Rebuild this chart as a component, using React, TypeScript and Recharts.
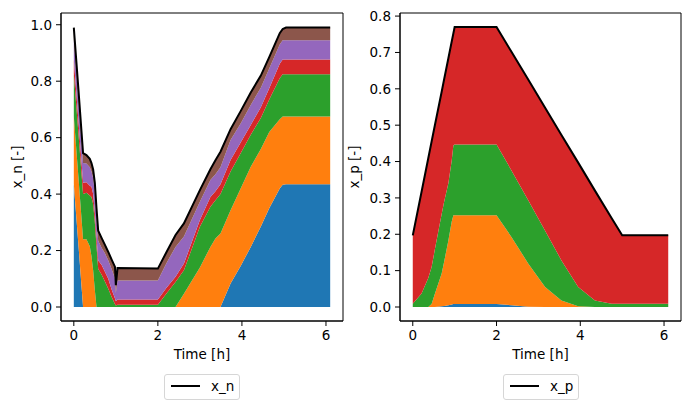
import React from 'react'
import { ComposedChart, Area, Line, XAxis, YAxis, ReferenceArea } from 'recharts'

// tab10 colours used by matplotlib's stackplot
const COLORS = {
  blue: '#1f77b4',
  orange: '#ff7f0e',
  green: '#2ca02c',
  red: '#d62728',
  purple: '#9467bd',
  brown: '#8c564b',
}

const FONT = '"DejaVu Sans", "Liberation Sans", sans-serif'
const FONT_SIZE = 13.5
const X_DOMAIN: [number, number] = [-0.305, 6.405]

// ---------------------------------------------------------------------------
// negative electrode: x_n split into six stacked parts
// ---------------------------------------------------------------------------
const timeN = [
  0, 0.11, 0.22, 0.3, 0.38, 0.42, 0.46, 0.5, 0.54, 0.58, 0.66, 0.74, 0.82, 0.9, 0.98, 1.0, 1.04,
  2.0, 2.2, 2.42, 2.62, 3.0, 3.25, 3.37, 3.49, 3.73, 3.97, 4.21, 4.45, 4.65, 4.9, 4.97, 5.05, 6.1,
]
const nBlue = [
  0.435, 0.22, 0, 0, 0, 0, 0, 0, 0, 0, 0, 0, 0, 0, 0, 0, 0,
  0, 0, 0, 0, 0, 0, 0, 0, 0.083, 0.145, 0.213, 0.285, 0.35, 0.42, 0.433, 0.435, 0.435,
]
const nOrange = [
  0.24, 0.24, 0.24, 0.24, 0.215, 0.18, 0.13, 0.06, 0, 0, 0, 0, 0, 0, 0, 0, 0,
  0, 0, 0, 0.047, 0.14, 0.213, 0.243, 0.26, 0.26, 0.275, 0.284, 0.275, 0.27, 0.245, 0.242, 0.24, 0.24,
]
const nGreen = [
  0.15, 0.155, 0.16, 0.165, 0.18, 0.21, 0.235, 0.24, 0.215, 0.135, 0.115, 0.09, 0.065, 0.035, 0.01, 0.005, 0.008,
  0.008, 0.047, 0.089, 0.083, 0.144, 0.142, 0.135, 0.14, 0.137, 0.125, 0.113, 0.11, 0.115, 0.145, 0.15, 0.15, 0.15,
]
const nRed = [
  0.052, 0.045, 0.04, 0.037, 0.035, 0.036, 0.035, 0.035, 0.035, 0.03, 0.035, 0.035, 0.035, 0.027, 0.02, 0.015, 0.019,
  0.019, 0.02, 0.018, 0.024, 0.024, 0.035, 0.032, 0.035, 0.041, 0.038, 0.035, 0.038, 0.04, 0.052, 0.052, 0.052, 0.052,
]
const nPurple = [
  0.068, 0.067, 0.07, 0.066, 0.065, 0.054, 0.057, 0.07, 0.06, 0.07, 0.06, 0.065, 0.065, 0.073, 0.07, 0.03, 0.067,
  0.067, 0.087, 0.106, 0.096, 0.065, 0.06, 0.06, 0.06, 0.071, 0.067, 0.071, 0.069, 0.07, 0.068, 0.068, 0.068, 0.068,
]
const nBrown = [
  0.045, 0.043, 0.035, 0.03, 0.03, 0.03, 0.03, 0.035, 0.04, 0.035, 0.035, 0.03, 0.03, 0.033, 0.042, 0.027, 0.044,
  0.042, 0.039, 0.042, 0.046, 0.041, 0.038, 0.05, 0.055, 0.038, 0.044, 0.044, 0.043, 0.04, 0.04, 0.04, 0.045, 0.045,
]
const xN = [
  0.99, 0.77, 0.545, 0.538, 0.525, 0.51, 0.487, 0.44, 0.35, 0.27, 0.245, 0.22, 0.195, 0.168, 0.142, 0.077, 0.138,
  0.136, 0.193, 0.255, 0.296, 0.414, 0.488, 0.52, 0.55, 0.63, 0.694, 0.76, 0.82, 0.885, 0.97, 0.985, 0.99, 0.99,
]

// ---------------------------------------------------------------------------
// positive electrode: x_p split into four stacked parts
// ---------------------------------------------------------------------------
const timeP = [
  0, 0.21, 0.37, 0.45, 0.53, 0.69, 0.75, 0.85, 0.93, 0.97, 1.0, 2.0,
  2.36, 2.76, 3.16, 3.55, 3.95, 4.35, 4.75, 5.0, 6.1,
]
const pBlue = [
  0, 0, 0, 0, 0, 0.002, 0.003, 0.005, 0.007, 0.008, 0.008, 0.008,
  0.005, 0.001, 0, 0, 0, 0, 0, 0, 0,
]
const pOrange = [
  0, 0, 0, 0.008, 0.037, 0.09, 0.122, 0.178, 0.228, 0.244, 0.244, 0.244,
  0.187, 0.118, 0.055, 0.018, 0.002, 0, 0, 0, 0,
]
const pGreen = [
  0.009, 0.037, 0.08, 0.102, 0.123, 0.164, 0.165, 0.157, 0.168, 0.193, 0.195, 0.195,
  0.183, 0.174, 0.155, 0.11, 0.053, 0.018, 0.009, 0.009, 0.009,
]
const pRed = [
  0.188, 0.28, 0.329, 0.345, 0.341, 0.336, 0.337, 0.344, 0.327, 0.308, 0.323, 0.323,
  0.326, 0.332, 0.338, 0.345, 0.342, 0.302, 0.235, 0.188, 0.188,
]
const xP = [
  0.197, 0.317, 0.409, 0.455, 0.501, 0.592, 0.627, 0.684, 0.73, 0.753, 0.77, 0.77,
  0.701, 0.625, 0.548, 0.473, 0.397, 0.32, 0.244, 0.197, 0.197,
]

const xTicks = [0, 2, 4, 6]
const yTicksN = [0, 0.2, 0.4, 0.6, 0.8, 1.0]
const yTicksP = [0, 0.1, 0.2, 0.3, 0.4, 0.5, 0.6, 0.7, 0.8]

const dataN = timeN.map((t, i) => ({
  t,
  blue: nBlue[i],
  orange: nOrange[i],
  green: nGreen[i],
  red: nRed[i],
  purple: nPurple[i],
  brown: nBrown[i],
  xn: xN[i],
}))

const dataP = timeP.map((t, i) => ({
  t,
  blue: pBlue[i],
  orange: pOrange[i],
  green: pGreen[i],
  red: pRed[i],
  xp: xP[i],
}))

const tickStyle = { fill: '#000', fontSize: FONT_SIZE, fontFamily: FONT }
const axisLine = { stroke: '#000', strokeWidth: 1 }

function LegendBox({ left, label }: { left: number; label: string }) {
  return (
    <div
      style={{
        position: 'absolute',
        left,
        top: 374,
        width: 76,
        height: 26,
        boxSizing: 'border-box',
        border: '1px solid #d6d6d6',
        borderRadius: 3,
        background: '#fff',
        fontFamily: FONT,
        fontSize: FONT_SIZE,
      }}
    >
      <div style={{ position: 'absolute', left: 6, top: 10, width: 29, height: 2, background: '#000' }} />
      <div style={{ position: 'absolute', left: 46, top: 2, lineHeight: '18px', color: '#000' }}>{label}</div>
    </div>
  )
}

interface PanelProps {
  data: Array<Record<string, number>>
  keys: string[]
  lineKey: string
  yDomain: [number, number]
  yTicks: number[]
  yLabel: string
  yAxisWidth: number
  yLabelOffset: number
  width: number
  marginRight: number
}

function Panel({
  data,
  keys,
  lineKey,
  yDomain,
  yTicks,
  yLabel,
  yAxisWidth,
  yLabelOffset,
  width,
  marginRight,
}: PanelProps) {
  return (
    <ComposedChart
      width={width}
      height={409}
      data={data}
      margin={{ top: 13, right: marginRight, bottom: 60, left: 0 }}
    >
      <XAxis
        dataKey="t"
        type="number"
        domain={X_DOMAIN}
        allowDataOverflow
        ticks={xTicks}
        interval={0}
        height={28}
        tickSize={5}
        tickMargin={4}
        tick={tickStyle}
        tickLine={{ stroke: '#000' }}
        axisLine={axisLine}
        label={{ value: 'Time [h]', position: 'bottom', offset: 0, fill: '#000', fontSize: FONT_SIZE, fontFamily: FONT }}
      />
      <YAxis
        type="number"
        domain={yDomain}
        allowDataOverflow
        ticks={yTicks}
        interval={0}
        width={yAxisWidth}
        tickSize={5}
        tickMargin={4}
        tick={tickStyle}
        tickLine={{ stroke: '#000' }}
        tickFormatter={(v: number) => v.toFixed(1)}
        axisLine={axisLine}
        label={{
          value: yLabel,
          angle: -90,
          position: 'insideLeft',
          offset: yLabelOffset,
          fill: '#000',
          fontSize: FONT_SIZE,
          fontFamily: FONT,
          style: { textAnchor: 'middle' },
        }}
      />
      {keys.map((k) => (
        <Area
          key={k}
          type="linear"
          dataKey={k}
          stackId="s"
          stroke="none"
          fill={COLORS[k as keyof typeof COLORS]}
          fillOpacity={1}
          dot={false}
          activeDot={false}
          isAnimationActive={false}
        />
      ))}
      <Line
        type="linear"
        dataKey={lineKey}
        stroke="#000"
        strokeWidth={2}
        dot={false}
        activeDot={false}
        isAnimationActive={false}
      />
      {/* full matplotlib box around the axes */}
      <ReferenceArea
        x1={X_DOMAIN[0]}
        x2={X_DOMAIN[1]}
        y1={yDomain[0]}
        y2={yDomain[1]}
        fill="none"
        fillOpacity={0}
        stroke="#000"
        strokeWidth={1}
        ifOverflow="visible"
      />
    </ComposedChart>
  )
}

export default function App() {
  return (
    <div style={{ position: 'absolute', left: 0, top: 0, width: 691, height: 409, background: '#fff', overflow: 'hidden' }}>
      <div style={{ position: 'absolute', left: 0, top: 0 }}>
        <Panel
          data={dataN}
          keys={['blue', 'orange', 'green', 'red', 'purple', 'brown']}
          lineKey="xn"
          yDomain={[-0.0496, 1.0416]}
          yTicks={yTicksN}
          yLabel="x_n [-]"
          yAxisWidth={61}
          yLabelOffset={17}
          width={345}
          marginRight={2}
        />
      </div>
      <div style={{ position: 'absolute', left: 345, top: 0 }}>
        <Panel
          data={dataP}
          keys={['blue', 'orange', 'green', 'red']}
          lineKey="xp"
          yDomain={[-0.0385, 0.8085]}
          yTicks={yTicksP}
          yLabel="x_p [-]"
          yAxisWidth={55}
          yLabelOffset={9.5}
          width={346}
          marginRight={10}
        />
      </div>
      <LegendBox left={164} label="x_n" />
      <LegendBox left={503} label="x_p" />
    </div>
  )
}
